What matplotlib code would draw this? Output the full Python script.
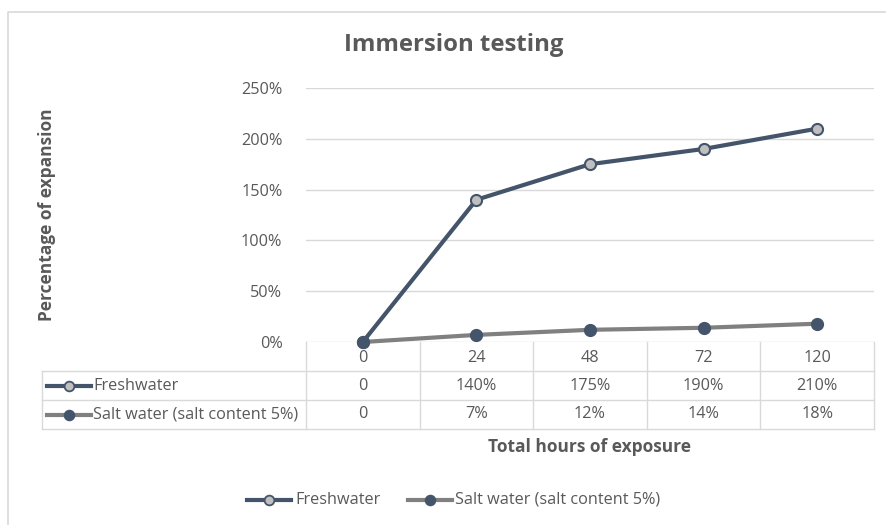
import matplotlib
matplotlib.use("Agg")
import matplotlib.pyplot as plt
from matplotlib.lines import Line2D

plt.rcParams['font.family'] = ['Open Sans', 'DejaVu Sans']

# data
hours = ['0', '24', '48', '72', '120']
freshwater = [0, 140, 175, 190, 210]
saltwater = [0, 7, 12, 14, 18]
fresh_labels = ['0', '140%', '175%', '190%', '210%']
salt_labels = ['0', '7%', '12%', '14%', '18%']
series_names = ['Freshwater', 'Salt water (salt content 5%)']

W, H = 886, 525
fig = plt.figure(figsize=(W / 100, H / 100), dpi=100)

def fx(px):
    return px / W

def fy(py):
    return 1 - py / H

# plot area in pixels
x0, x1 = 306, 874
ytop, ybot = 88, 342
ax = fig.add_axes([fx(x0), fy(ybot), fx(x1) - fx(x0), fy(ytop) - fy(ybot)])

text_col = '#595959'
grid_col = '#D9D9D9'
fresh_col = '#44546A'
salt_col = '#808080'
fs = 11.7

xs = list(range(len(hours)))
ax.plot(xs, freshwater, color=fresh_col, lw=3, marker='o', ms=8,
        mfc='#BFBFBF', mec=fresh_col, mew=1.5, zorder=3, clip_on=False)
ax.plot(xs, saltwater, color=salt_col, lw=3, marker='o', ms=8,
        mfc=fresh_col, mec=fresh_col, mew=1.5, zorder=3, clip_on=False)

ax.set_xlim(-0.5, len(hours) - 0.5)
ax.set_ylim(0, 250)
ax.set_yticks(range(0, 251, 50))
ax.set_yticklabels([f'{v}%' for v in range(0, 251, 50)])
ax.yaxis.grid(True, color=grid_col, lw=1)
ax.set_axisbelow(True)
ax.set_xticks([])
for s in ax.spines.values():
    s.set_visible(False)
ax.tick_params(axis='y', length=0, pad=17, labelsize=fs, labelcolor=text_col)

# data table
tbl_left = 42
rows_y = [342, 371, 400, 429]
col_w = (x1 - x0) / len(hours)
cols_x = [x0 + i * col_w for i in range(len(hours) + 1)]

def hline(y, xa, xb):
    fig.add_artist(Line2D([fx(xa), fx(xb)], [fy(y), fy(y)], color=grid_col, lw=1))

def vline(x, ya, yb):
    fig.add_artist(Line2D([fx(x), fx(x)], [fy(ya), fy(yb)], color=grid_col, lw=1))

hline(rows_y[1], tbl_left, x1)
hline(rows_y[2], tbl_left, x1)
hline(rows_y[3], tbl_left, x1)
for cx in cols_x:
    vline(cx, rows_y[0], rows_y[3])
vline(tbl_left, rows_y[1], rows_y[3])

for i, h in enumerate(hours):
    cx = (cols_x[i] + cols_x[i + 1]) / 2
    fig.text(fx(cx), fy((rows_y[0] + rows_y[1]) / 2 + 1), h, ha='center', va='center',
             fontsize=fs, color=text_col)
    fig.text(fx(cx), fy((rows_y[1] + rows_y[2]) / 2), fresh_labels[i], ha='center', va='center',
             fontsize=fs, color=text_col)
    fig.text(fx(cx), fy((rows_y[2] + rows_y[3]) / 2), salt_labels[i], ha='center', va='center',
             fontsize=fs, color=text_col)

# legend keys
def key(xk, yk, lc, mf):
    fig.add_artist(Line2D([fx(xk), fx(xk + 44)], [fy(yk), fy(yk)], color=lc, lw=3))
    fig.add_artist(Line2D([fx(xk + 22)], [fy(yk)], marker='o', ms=7, mfc=mf, mec=fresh_col,
                          mew=1.3, color=lc))

ym1 = (rows_y[1] + rows_y[2]) / 2
ym2 = (rows_y[2] + rows_y[3]) / 2
key(47, ym1, fresh_col, '#BFBFBF')
key(47, ym2, salt_col, fresh_col)
fig.text(fx(93), fy(ym1), series_names[0], ha='left', va='center', fontsize=fs, color=text_col)
fig.text(fx(93), fy(ym2), series_names[1], ha='left', va='center', fontsize=fs, color=text_col)

# titles
fig.text(fx(454), fy(45), 'Immersion testing', ha='center', va='center',
         fontsize=17.2, fontweight='bold', color=text_col)
fig.text(fx(47), fy(215), 'Percentage of expansion', ha='center', va='center',
         rotation=90, fontsize=12.5, fontweight='bold', color=text_col)
fig.text(fx(590), fy(447), 'Total hours of exposure', ha='center', va='center',
         fontsize=12.5, fontweight='bold', color=text_col)

# bottom legend
key(247, 500, fresh_col, '#BFBFBF')
fig.text(fx(295), fy(500), series_names[0], ha='left', va='center', fontsize=fs, color=text_col)
key(408, 500, salt_col, fresh_col)
fig.text(fx(455), fy(500), series_names[1], ha='left', va='center', fontsize=fs, color=text_col)

# chart border
fig.add_artist(Line2D([fx(8), fx(8), fx(886)], [fy(525), fy(12), fy(12)], color=grid_col, lw=1.2))

fig.savefig('out.png', dpi=100, facecolor='white')
